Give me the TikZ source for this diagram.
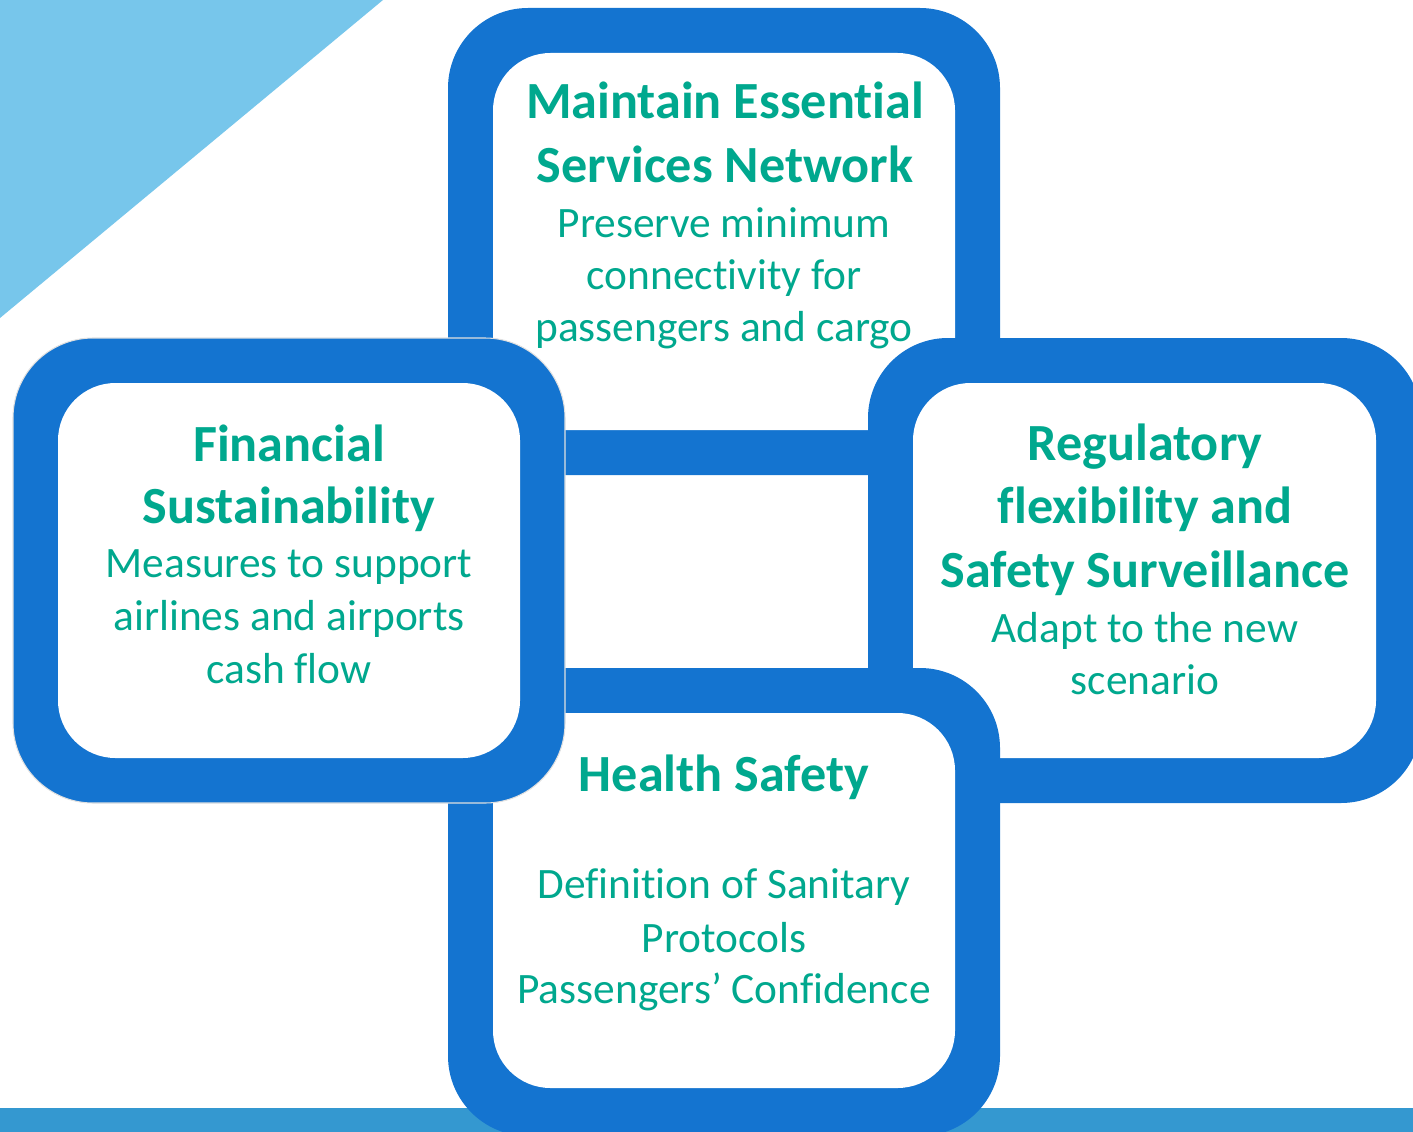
\documentclass[tikz,border=0pt]{standalone}
\usepackage{fontspec}
\setmainfont{Carlito}[Ligatures=NoCommon]
\definecolor{boxblue}{RGB}{20,116,208}
\definecolor{textteal}{RGB}{0,168,142}
\definecolor{skyblue}{RGB}{119,198,235}
\definecolor{bandblue}{RGB}{52,152,208}
\begin{document}
\begin{tikzpicture}[x=0.02cm,y=-0.02cm,
   outerbox/.style={fill=boxblue,rounded corners=1.6cm},
   innerbox/.style={fill=white,rounded corners=1.15cm},
   headline/.style={anchor=base,inner sep=0pt,text=textteal,font=\fontsize{29.7}{35}\selectfont\bfseries},
   bodyline/.style={anchor=base,inner sep=0pt,text=textteal,font=\fontsize{24.7}{30}\selectfont}]
   \useasboundingbox (0,0) rectangle (1413,1132);
   \clip (0,0) rectangle (1413,1132);

   % 背景
   \fill[skyblue] (0,0) -- (383,0) -- (0,318) -- cycle;
   \fill[bandblue] (0,1108) rectangle (1413,1140);

   % 枠 (上, 右, 下, 左の順に重ねる)
   \fill[outerbox] (448,8) rectangle (1000,475);
   \fill[innerbox] (493,53) rectangle (955,430);
   \fill[outerbox] (868,338) rectangle (1421,803);
   \fill[innerbox] (913,383) rectangle (1376,758);
   \fill[outerbox] (448,668) rectangle (1000,1136);
   \fill[innerbox] (493,713) rectangle (955,1088);
   \filldraw[outerbox,draw=black!12,line width=0.6pt] (13,338) rectangle (565,803);
   \fill[innerbox] (58,383) rectangle (520,758);

   % 上
   \node[headline] (topH1) at (725,118) {Maintain Essential};
   \node[headline] (topH2) at (725,182) {Services Network};
   \node[bodyline] (topB1) at (724,237) {Preserve minimum};
   \node[bodyline] (topB2) at (724,289) {connectivity for};
   \node[bodyline] (topB3) at (724,341) {passengers and cargo};

   % 左
   \node[headline] (leftH1) at (289,461) {Financial};
   \node[headline] (leftH2) at (289,523) {Sustainability};
   \node[bodyline] (leftB1) at (289,577) {Measures to support};
   \node[bodyline] (leftB2) at (289,630) {airlines and airports};
   \node[bodyline] (leftB3) at (289,683) {cash flow};

   % 右
   \node[headline] (rightH1) at (1145,460) {Regulatory};
   \node[headline] (rightH2) at (1145,523) {flexibility and};
   \node[headline] (rightH3) at (1145,587) {Safety Surveillance};
   \node[bodyline] (rightB1) at (1145,642) {Adapt to the new};
   \node[bodyline] (rightB2) at (1145,694) {scenario};

   % 下
   \node[headline] (botH1) at (724,791) {Health Safety};
   \node[bodyline] (botB1) at (724,898) {Definition of Sanitary};
   \node[bodyline] (botB2) at (724,952) {Protocols};
   \node[bodyline] (botB3) at (724,1003) {Passengers’ Confidence};

\end{tikzpicture}
\end{document}
